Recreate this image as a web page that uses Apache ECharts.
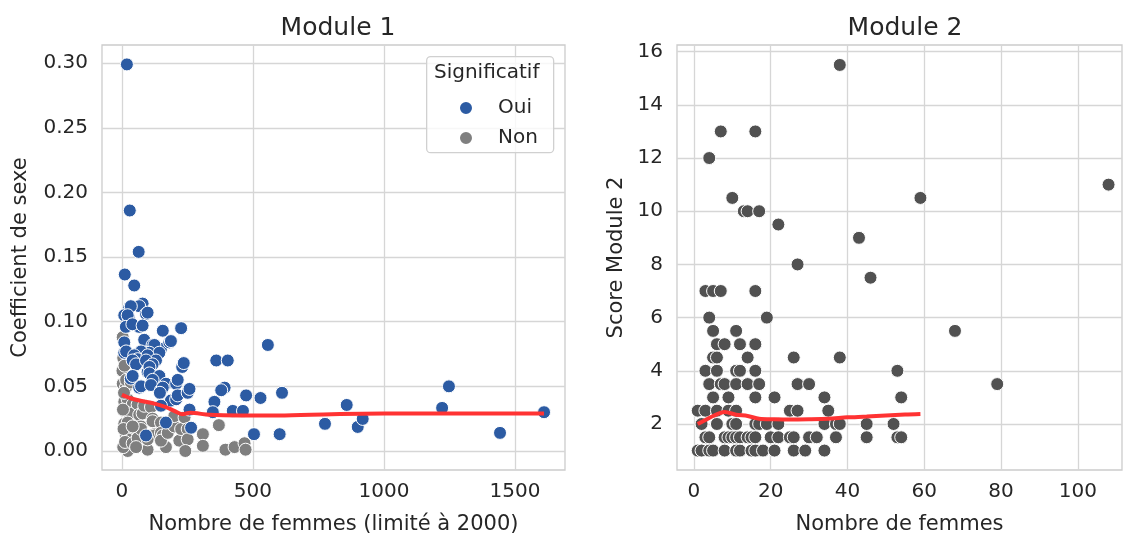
<!DOCTYPE html>
<html><head><meta charset="utf-8">
<script src="https://cdn.jsdelivr.net/npm/echarts@6/dist/echarts.min.js"></script>
<style>html,body{margin:0;padding:0;background:#fff}#c{width:1130px;height:533px}</style>
</head><body><div id="c"></div>
<script>
// Module 1 data: [nombre de femmes, coefficient de sexe]
const m1Oui = [[19,0.299],[30,0.186],[64,0.154],[11,0.1365],[47,0.128],[79,0.114],[66,0.112],[28,0.111],[9,0.105],[26,0.103],[92,0.106],[34,0.112],[22,0.105],[98,0.107],
[15,0.096],[66,0.096],[40,0.098],[79,0.097],[156,0.093],[226,0.095],[9,0.084],[85,0.086],[117,0.082],[149,0.079],[181,0.084],[124,0.082],[187,0.085],
[9,0.076],[66,0.076],[105,0.076],[143,0.076],[16,0.077],[73,0.077],[47,0.074],[60,0.071],[98,0.074],[130,0.070],
[41,0.070],[54,0.067],[92,0.070],[117,0.067],[98,0.061],[105,0.065],[230,0.065],[236,0.068],[360,0.070],[404,0.070],[557,0.082],
[34,0.056],[41,0.058],[105,0.060],[136,0.056],[143,0.058],[117,0.055],[168,0.052],[66,0.049],[73,0.050],[111,0.051],[149,0.047],[156,0.049],[207,0.052],[213,0.055],
[392,0.049],[379,0.047],[145,0.045],[187,0.039],[207,0.040],[213,0.043],[251,0.045],[258,0.048],[474,0.043],[529,0.041],[611,0.045],
[353,0.038],[347,0.030],[149,0.035],[258,0.032],[423,0.031],[462,0.031],[168,0.022],[264,0.018],[92,0.012],[504,0.013],[602,0.013],
[775,0.021],[858,0.0356],[900,0.0186],[919,0.0248],[1222,0.0333],[1248,0.050],[1443,0.014],[1611,0.030]];
const m1Non = [[3,0.088],[5,0.072],[2,0.062],[10,0.066],[3,0.052],[15,0.049],[16,0.055],[34,0.053],[9,0.038],[22,0.040],[15,0.030],[9,0.021],[28,0.027],[41,0.036],[60,0.036],
[28,0.029],[22,0.022],[28,0.014],[15,0.013],[16,0.012],[22,0.009],[34,0.005],[22,0.000],[5,0.003],[8,0.045],[4,0.032],[6,0.017],[12,0.007],[41,0.006],[60,0.010],
[66,0.028],[73,0.019],[73,0.017],[41,0.019],[79,0.029],[85,0.035],[111,0.034],[117,0.025],[117,0.023],[124,0.013],[124,0.012],[98,0.001],[98,0.009],[54,0.003],
[149,0.022],[149,0.014],[156,0.012],[168,0.003],[149,0.008],[175,0.014],[200,0.019],[200,0.027],[219,0.008],[226,0.017],[239,0.026],[251,0.017],[251,0.009],[242,0.000],
[309,0.013],[309,0.004],[370,0.020],[395,0.001],[430,0.003],[468,0.006],[472,0.001]];
const m1Trend = [[0,0.0435],[30,0.041],[66,0.039],[117,0.037],[168,0.034],[200,0.031],[230,0.0285],[260,0.0295],[334,0.028],[449,0.0275],[600,0.0275],[800,0.0285],[1000,0.029],[1200,0.029],[1400,0.029],[1611,0.029]];
// Module 2 data: [nombre de femmes, score]
const m2Points = [
[1,1],[2,1],[4,1],[5,1],[8,1],[11,1],[12,1],[15,1],[16,1],[18,1],[21,1],[26,1],[29,1],[34,1],
[3,1.5],[4,1.5],[8,1.5],[9,1.5],[10,1.5],[11,1.5],[12,1.5],[14,1.5],[15,1.5],[16,1.5],[20,1.5],[22,1.5],[25,1.5],[26,1.5],[30,1.5],[32,1.5],[37,1.5],[45,1.5],[53,1.5],[54,1.5],
[2,2],[6,2],[10,2],[11,2],[16,2],[17,2],[19,2],[22,2],[34,2],[37,2],[38,2],[45,2],[52,2],
[1,2.5],[3,2.5],[6,2.5],[9,2.5],[11,2.5],[25,2.5],[27,2.5],[35,2.5],
[5,3],[9,3],[16,3],[21,3],[34,3],[54,3],
[4,3.5],[7,3.5],[8,3.5],[11,3.5],[14,3.5],[17,3.5],[27,3.5],[30,3.5],[79,3.5],
[3,4],[6,4],[11,4],[12,4],[16,4],[53,4],
[5,4.5],[6,4.5],[14,4.5],[26,4.5],[38,4.5],
[6,5],[8,5],[12,5],[16,5],
[5,5.5],[11,5.5],[68,5.5],
[4,6],[19,6],
[3,7],[5,7],[7,7],[16,7],[46,7.5],[27,8],[43,9],[22,9.5],
[13,10],[14,10],[17,10],[10,10.5],[59,10.5],[108,11],[4,12],[7,13],[16,13],[38,15.5]];
const m2Trend = [[1,2.0],[3,2.15],[5,2.3],[8,2.45],[11,2.35],[14,2.3],[17,2.2],[21,2.18],[25,2.17],[30,2.18],[35,2.2],[40,2.25],[45,2.28],[50,2.32],[55,2.36],[59,2.38]];
const xTicks1 = [0,500,1000,1500];
const yTicks1 = [0,0.05,0.10,0.15,0.20,0.25,0.30];
const xTicks2 = [0,20,40,60,80,100];
const yTicks2 = [2,4,6,8,10,12,14,16];

const FONT = 'DejaVu Sans';
const TXT = '#262626';
function axis(gi, min, max, ticks, fmt, name, gap, vertical) {
  return {
    type: 'value', gridIndex: gi, min: min, max: max,
    name: name, nameLocation: 'middle', nameGap: gap,
    nameTextStyle: {fontFamily: FONT, fontSize: 21, color: TXT},
    axisLine: {show: false},
    axisTick: {show: false, customValues: ticks},
    axisLabel: {customValues: ticks, formatter: fmt, fontFamily: FONT, fontSize: 20, color: TXT, margin: vertical ? 14 : 12},
    splitLine: {show: true, lineStyle: {color: '#d6d6d6', width: 1.3}}
  };
}
const chart = echarts.init(document.getElementById('c'), null, {renderer: 'canvas'});
const dot = (c) => ({color: c, borderColor: '#ffffff', borderWidth: 1, opacity: 1});
chart.setOption({
  animation: false,
  backgroundColor: '#ffffff',
  title: [
    {text: 'Module 1', left: 333, top: 11, textAlign: 'center', textStyle: {fontFamily: FONT, fontSize: 25, fontWeight: 'normal', color: TXT}},
    {text: 'Module 2', left: 900, top: 11, textAlign: 'center', textStyle: {fontFamily: FONT, fontSize: 25, fontWeight: 'normal', color: TXT}}
  ],
  grid: [
    {left: 102, top: 45, width: 463, height: 425, show: true, borderColor: '#cccccc', borderWidth: 1.3, backgroundColor: 'transparent', outerBoundsMode: 'none', containLabel: false},
    {left: 677, top: 45, width: 445, height: 425, show: true, borderColor: '#cccccc', borderWidth: 1.3, backgroundColor: 'transparent', outerBoundsMode: 'none', containLabel: false}
  ],
  xAxis: [
    axis(0, -76, 1691, xTicks1, v => String(v), 'Nombre de femmes (limité à 2000)', 44, false),
    axis(1, -4.4, 111.5, xTicks2, v => String(v), 'Nombre de femmes', 44, false)
  ],
  yAxis: [
    axis(0, -0.0147, 0.314, yTicks1, v => v.toFixed(2), 'Coefficient de sexe', 71, true),
    axis(1, 0.27, 16.25, yTicks2, v => String(v), 'Score Module 2', 50, true)
  ],
  legend: {
    data: ['Oui', 'Non'], orient: 'vertical', left: 453, top: 93, itemGap: 10, z: 20,
    itemWidth: 14, itemHeight: 14, icon: 'circle',
    textStyle: {fontFamily: FONT, fontSize: 20, color: TXT, padding: [0, 0, 0, 20]}
  },
  graphic: [
    {type: 'rect', left: 426, top: 56, shape: {width: 127, height: 96, r: 4}, style: {fill: 'rgba(255,255,255,0.8)', stroke: '#d0d0d0', lineWidth: 1.3}, z: 10},
    {type: 'text', left: 434, top: 63, style: {text: 'Significatif', font: '20px "DejaVu Sans"', fill: TXT}, z: 11}
  ],
  series: [
    {name: 'Non', type: 'scatter', xAxisIndex: 0, yAxisIndex: 0, data: m1Non, symbolSize: 13, itemStyle: dot('#7f7f7f'), z: 2},
    {name: 'Oui', type: 'scatter', xAxisIndex: 0, yAxisIndex: 0, data: m1Oui, symbolSize: 13, itemStyle: dot('#2c5ba3'), z: 3},
    {name: 'trend1', type: 'line', xAxisIndex: 0, yAxisIndex: 0, data: m1Trend, showSymbol: false, smooth: 0.3, lineStyle: {color: '#ff3333', width: 4}, z: 4},
    {name: 'm2', type: 'scatter', xAxisIndex: 1, yAxisIndex: 1, data: m2Points, symbolSize: 13, itemStyle: dot('#515151'), z: 2},
    {name: 'trend2', type: 'line', xAxisIndex: 1, yAxisIndex: 1, data: m2Trend, showSymbol: false, smooth: 0.3, lineStyle: {color: '#ff3333', width: 4}, z: 4}
  ]
});
</script></body></html>
